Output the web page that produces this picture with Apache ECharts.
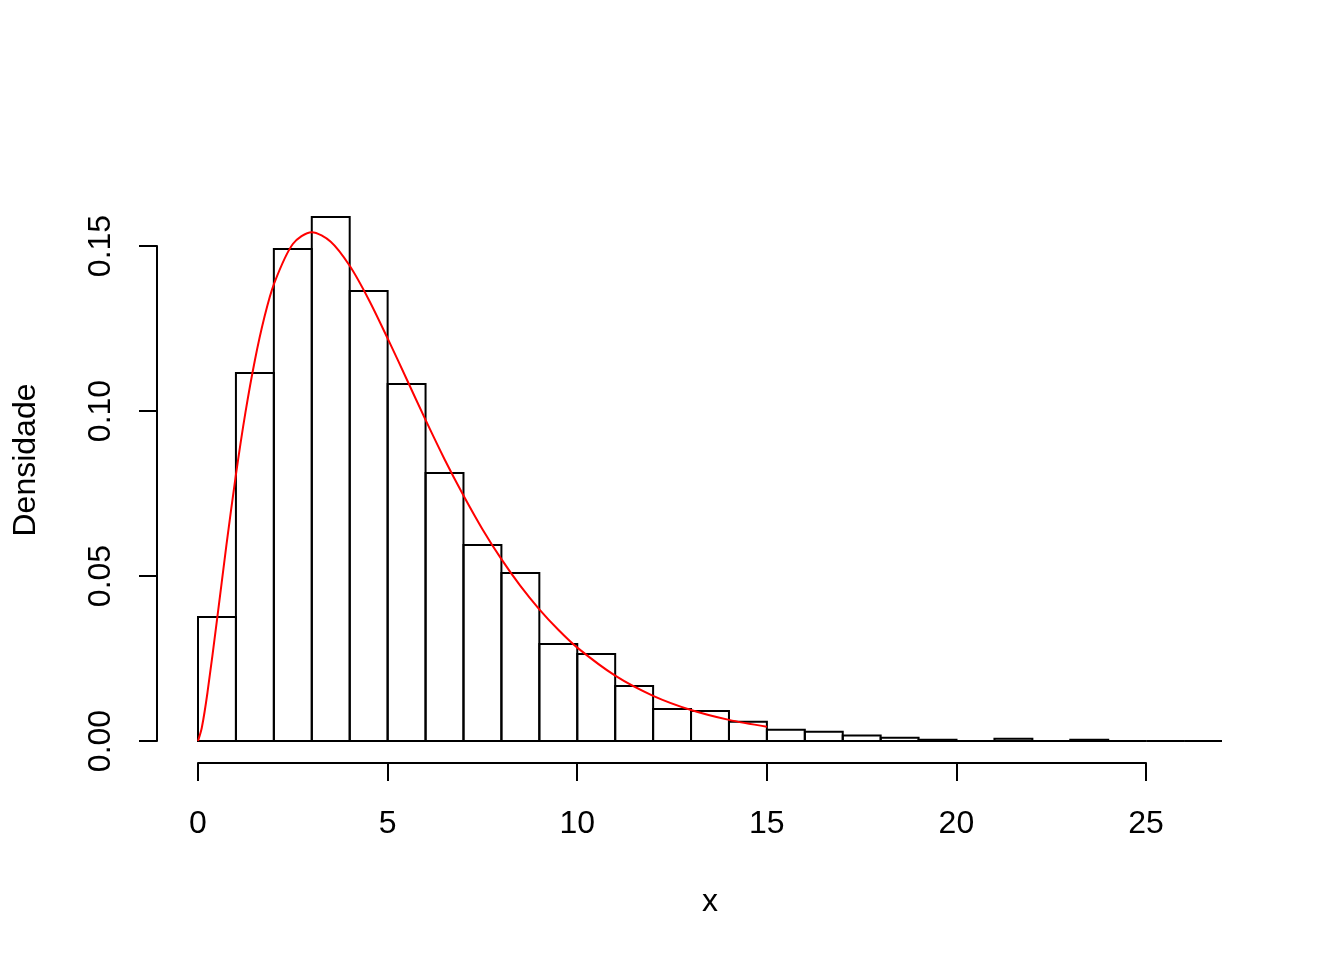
<!DOCTYPE html>
<html>
<head>
<meta charset="utf-8">
<script src="https://cdn.jsdelivr.net/npm/echarts@6/dist/echarts.min.js"></script>
<style>html,body{margin:0;padding:0;background:#fff;}#c{width:1344px;height:960px;}</style>
</head>
<body>
<div id="c"></div>
<script>
// Histogram bin edges (left) and densities
const binStarts = [0,1,2,3,4,5,6,7,8,9,10,11,12,13,14,15,16,17,18,19,20,21,22,23,24,25,26];
const binWidth = 1;
const densities = [0.0376,0.1115,0.1491,0.1588,0.1364,0.1082,0.0812,0.0594,0.0509,0.0294,0.0264,0.0167,0.0097,0.0091,0.0058,0.0034,0.0028,0.0017,0.0010,0.0004,0,0.0007,0,0.0004,0,0,0];
// Density curve points
const curveX = [0,0.1,0.25,0.5,0.75,1,1.25,1.5,1.75,2,2.5,3,3.5,4,4.5,5,5.5,6,6.5,7,7.5,8,8.5,9,9.5,10,11,12,13,14,15];
const curveY = [0,0.0040,0.0147,0.0366,0.0594,0.0807,0.0995,0.1154,0.1284,0.1384,0.1506,0.1542,0.1513,0.1440,0.1338,0.1220,0.1097,0.0973,0.0854,0.0744,0.0642,0.0551,0.0470,0.0399,0.0337,0.0283,0.0198,0.0137,0.0094,0.0064,0.0043];
// Axis ticks
const xTicks = [0,5,10,15,20,25];
const yTicks = [0,0.05,0.10,0.15];

const font = 'Liberation Sans, Arial, sans-serif';
const chart = echarts.init(document.getElementById('c'));
const histData = binStarts.map((s,i)=>[s, s+binWidth, densities[i]]);
const curveData = curveX.map((x,i)=>[x, curveY[i]]);
const nameStyle = {fontFamily: font, fontSize: 32, color: '#000'};

chart.setOption({
  animation: false,
  backgroundColor: '#fff',
  grid: [
    {left: 198, right: 122, top: 213, bottom: 219},
    {left: 157, top: 246, bottom: 219, width: 10},
    {left: 198, width: 948, bottom: 197, height: 10},
    {left: 157, top: 246, height: 428, width: 10}
  ],
  xAxis: [
    {gridIndex: 0, type: 'value', min: 0, max: 27, show: true,
      name: 'x', nameLocation: 'middle', nameGap: 145, nameTextStyle: nameStyle,
      axisLine: {show: false}, axisTick: {show: false}, axisLabel: {show: false}, splitLine: {show: false}},
    {gridIndex: 1, type: 'value', min: 0, max: 1, show: false},
    {gridIndex: 2, type: 'value', min: xTicks[0], max: xTicks[xTicks.length-1], interval: 5, position: 'bottom',
      axisLine: {show: true, lineStyle: {color: '#000', width: 2}},
      axisTick: {show: true, inside: false, length: 18, lineStyle: {color: '#000', width: 2}},
      axisLabel: {show: true, margin: 45, fontFamily: font, fontSize: 32, color: '#000'},
      splitLine: {show: false}},
    {gridIndex: 3, type: 'value', min: 0, max: 1, show: false}
  ],
  yAxis: [
    {gridIndex: 0, type: 'value', min: 0, max: 0.16, show: false},
    {gridIndex: 1, type: 'value', min: yTicks[0], max: yTicks[yTicks.length-1], interval: 0.05, position: 'left',
      axisLine: {show: true, lineStyle: {color: '#000', width: 2}},
      axisTick: {show: true, inside: false, length: 18, lineStyle: {color: '#000', width: 2}},
      axisLabel: {show: true, rotate: 90, margin: 40, fontFamily: font, fontSize: 32, color: '#000',
        formatter: v => v.toFixed(2)},
      splitLine: {show: false}},
    {gridIndex: 2, type: 'value', min: 0, max: 1, show: false},
    {gridIndex: 3, type: 'value', min: 0, max: 1, show: true, position: 'left',
      name: 'Densidade', nameLocation: 'middle', nameGap: 115, nameRotate: 90, nameTextStyle: nameStyle,
      axisLine: {show: false}, axisTick: {show: false}, axisLabel: {show: false}, splitLine: {show: false}}
  ],
  series: [
    {
      type: 'custom', xAxisIndex: 0, yAxisIndex: 0,
      data: histData,
      renderItem: function (params, api) {
        const p0 = api.coord([api.value(0), api.value(2)]);
        const p1 = api.coord([api.value(1), 0]);
        return {
          type: 'rect',
          shape: {x: p0[0], y: p0[1], width: p1[0]-p0[0], height: p1[1]-p0[1]},
          style: {fill: 'none', stroke: '#000', lineWidth: 2}
        };
      },
      z: 2
    },
    {
      type: 'line', xAxisIndex: 0, yAxisIndex: 0,
      data: curveData, smooth: 0.3, showSymbol: false,
      lineStyle: {color: '#ff0000', width: 2}, z: 3
    }
  ]
});
</script>
</body>
</html>
